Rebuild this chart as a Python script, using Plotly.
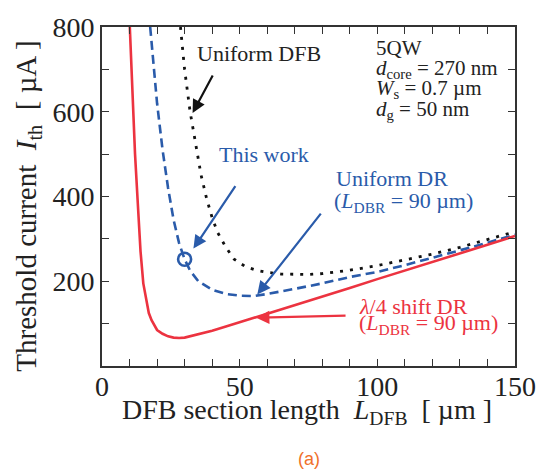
import plotly.graph_objects as go

# ---- data ----
red_x = [10.1, 11, 12, 13, 14, 15, 16, 17, 18, 19, 20, 22, 24, 26, 28, 30, 32, 35, 40, 45, 50, 56, 60, 70, 80, 90, 100, 110, 120, 130, 140, 150]
red_y = [800, 640, 500, 384, 270, 195, 155, 125, 108, 95, 85, 76, 70, 67, 66, 67, 70, 74, 83, 93, 103, 115, 123, 143, 163, 184, 205, 225, 245, 266, 286, 307]

blue_x = [17.5, 18.5, 20, 22, 24, 26, 28, 30, 32, 35, 40, 45, 50, 55, 60, 70, 80, 90, 100, 110, 120, 130, 140, 150]
blue_y = [800, 720, 620, 510, 420, 345, 290, 252, 225, 200, 180, 170, 166, 165, 170, 182, 195, 210, 222, 238, 255, 273, 291, 310]

black_x = [28.5, 30, 32, 34, 36, 38, 40, 42, 45, 48, 52, 56, 60, 65, 70, 75, 80, 90, 100, 110, 120, 130, 140, 150]
black_y = [800, 700, 600, 520, 450, 395, 350, 315, 280, 252, 235, 226, 221, 217, 216, 216, 218, 226, 237, 250, 264, 280, 298, 317]

this_work_x = [30]
this_work_y = [252]

x_tickvals = list(range(0, 151, 10))
x_ticktext = [str(v) if v % 50 == 0 else "" for v in x_tickvals]
y_tickvals = list(range(100, 801, 100))
y_ticktext = [str(v) if v % 200 == 0 else "" for v in y_tickvals]

RED = "#EC3340"
BLUE = "#2A5BAA"
BLACK = "#111111"
TXT = "#222222"
SERIF = "Liberation Serif"

fig = go.Figure()
fig.add_trace(go.Scatter(x=black_x, y=black_y, mode="lines",
                         line=dict(color=BLACK, width=2.8, dash="3px,7px"), showlegend=False))
fig.add_trace(go.Scatter(x=blue_x, y=blue_y, mode="lines",
                         line=dict(color=BLUE, width=2.6, dash="9px,5px"), showlegend=False))
fig.add_trace(go.Scatter(x=red_x, y=red_y, mode="lines",
                         line=dict(color=RED, width=2.6), showlegend=False))
fig.add_trace(go.Scatter(x=this_work_x, y=this_work_y, mode="markers",
                         marker=dict(symbol="circle-open", size=13, color=BLUE, line=dict(width=2.6, color=BLUE)),
                         showlegend=False))


def arrow(hx, hy, tx, ty, color):
    fig.add_annotation(x=hx, y=hy, ax=tx, ay=ty, xref="x", yref="y", axref="x", ayref="y",
                       text="", showarrow=True, arrowhead=2, arrowsize=1.2, arrowwidth=2.2,
                       arrowcolor=color)


def label(x, y, text, color, anchor="left", size=22):
    fig.add_annotation(x=x, y=y, xref="x", yref="y", xanchor=anchor, yanchor="middle",
                       text=text, showarrow=False, font=dict(family=SERIF, size=size, color=color))


arrow(32.9, 597, 40.5, 689, BLACK)
arrow(33.2, 277, 48.8, 428, BLUE)
arrow(56.4, 169, 79.9, 363, BLUE)
arrow(56.0, 114, 89.0, 119, RED)

label(57.1, 738, "Uniform DFB", TXT, anchor="center")
label(58.9, 500, "This work", BLUE, anchor="center")
label(84.2, 442, "Uniform DR", BLUE)
label(83.5, 387, "(<i>L</i><sub>DBR</sub> = 90 µm)", BLUE)
label(92.5, 141, "<i>λ</i>/4 shift DR", RED)
label(92.5, 100, "(<i>L</i><sub>DBR</sub> = 90 µm)", RED)
label(98.7, 751, "5QW", TXT, size=21)
label(98.7, 700, "<i>d</i><sub>core</sub> = 270 nm", TXT, size=21)
label(98.7, 654, "<i>W</i><sub>s</sub> = 0.7 µm", TXT, size=21)
label(98.7, 603, "<i>d</i><sub>g</sub> = 50 nm", TXT, size=21)

# axis titles
fig.add_annotation(xref="paper", yref="paper", x=(28 - 102) / 415, y=(366 - 203) / 346,
                   xanchor="center", yanchor="middle", textangle=-90,
                   text="Threshold current&nbsp;&nbsp;<i>I</i><sub>th</sub>&nbsp;&nbsp;[ µA ]", showarrow=False,
                   font=dict(family=SERIF, size=29, color=TXT))
fig.add_annotation(xref="paper", yref="paper", x=(308 - 102) / 415, y=-(412 - 366) / 346,
                   xanchor="center", yanchor="middle",
                   text="DFB section length&nbsp;&nbsp;<i>L</i><sub>DFB</sub>&nbsp;&nbsp;[ µm ]", showarrow=False,
                   font=dict(family=SERIF, size=28, color=TXT))
fig.add_annotation(xref="paper", yref="paper", x=(310 - 102) / 415, y=-(461 - 366) / 346,
                   xanchor="center", yanchor="middle", text="(a)", showarrow=False,
                   font=dict(family="Liberation Sans", size=18, color="#F0702A"))

axis_common = dict(showgrid=False, zeroline=False, showline=True, linecolor="#333333", linewidth=1.6,
                   mirror="allticks", ticks="inside", tickcolor="#333333", tickwidth=1.3, ticklen=7,
                   tickfont=dict(family=SERIF, size=28, color=TXT))

fig.update_xaxes(range=[0, 150], tickmode="array", tickvals=x_tickvals, ticktext=x_ticktext,
                 ticklabelstandoff=-5, **axis_common)
fig.update_yaxes(range=[0, 800], tickmode="array", tickvals=y_tickvals, ticktext=y_ticktext,
                 **axis_common)

fig.update_layout(width=548, height=474, margin=dict(l=102, r=31, t=20, b=108),
                  plot_bgcolor="white", paper_bgcolor="white")

fig.write_html("out.html")
